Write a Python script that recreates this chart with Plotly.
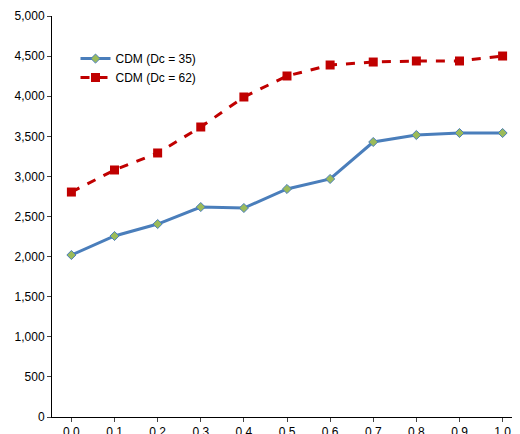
import plotly.graph_objects as go

x = [0.0, 0.1, 0.2, 0.3, 0.4, 0.5, 0.6, 0.7, 0.8, 0.9, 1.0]
dc35 = [2020, 2257, 2406, 2618, 2606, 2843, 2968, 3429, 3516, 3541, 3541]
dc62 = [2805, 3080, 3292, 3616, 3990, 4252, 4389, 4426, 4439, 4439, 4501]
xticks = ["0.0", "0.1", "0.2", "0.3", "0.4", "0.5", "0.6", "0.7", "0.8", "0.9", "1.0"]

fig = go.Figure()
fig.add_trace(go.Scatter(x=x, y=dc35, name="CDM (Dc = 35)", mode="lines+markers",
    line=dict(color="#4a7ebb", width=3),
    marker=dict(symbol="diamond", size=7, color="#9bbb59", line=dict(color="#4a7ebb", width=1))))
fig.add_trace(go.Scatter(x=x, y=dc62, name="CDM (Dc = 62)", mode="lines+markers",
    line=dict(color="#c00000", width=3, dash="dash"),
    marker=dict(symbol="square", size=9, color="#c00000")))

fig.update_layout(
    width=520, height=434, paper_bgcolor="white", plot_bgcolor="white",
    margin=dict(l=44, r=6, t=8, b=25, autoexpand=False),
    font=dict(family="Liberation Sans, Arial", size=12, color="black"),
    legend=dict(x=0.05, y=0.93, xanchor="left", yanchor="top", bgcolor="rgba(0,0,0,0)", font=dict(size=12)),
    showlegend=True,
)
fig.update_xaxes(range=[-0.045, 1.045], tickvals=x, ticktext=xticks, showline=True, linecolor="black",
    ticks="outside", ticklen=4, showgrid=False, zeroline=False)
fig.update_yaxes(range=[0, 5000], dtick=500, tickformat=",", showline=True, linecolor="black",
    ticks="outside", ticklen=4, showgrid=False, zeroline=False)
fig.write_html("out.html")
